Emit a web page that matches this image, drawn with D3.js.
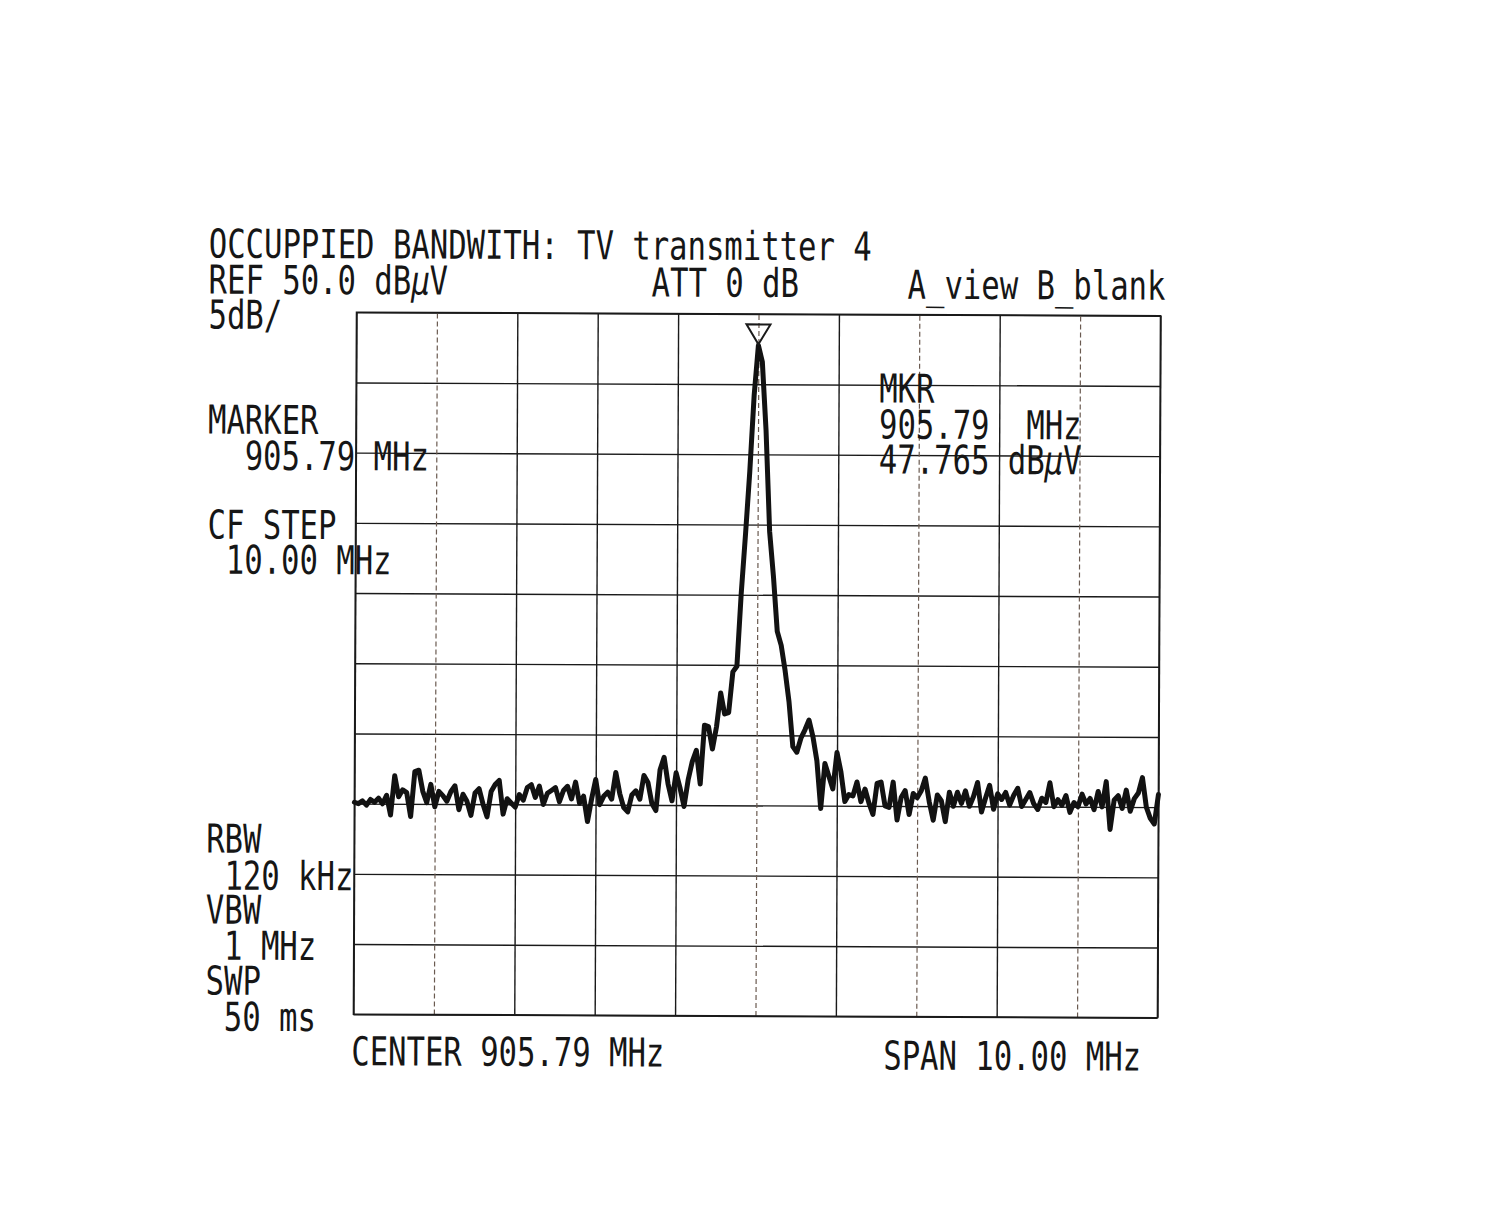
<!DOCTYPE html>
<html><head><meta charset="utf-8">
<script src="https://cdn.jsdelivr.net/npm/d3@7"></script>
<style>body{margin:0;background:#fff}svg{display:block}</style>
</head><body>
<svg id="c" width="1489" height="1227"></svg>
<script>
// ---- data ----
const centerMHz = 905.79;
const spanMHz = 10.0;
const refLevelDb = 50.0;
const dbPerDiv = 5;
const divisions = 10;
const traceStepMHz = 0.05;
const traceDb = [
15.1,15.0,15.2,14.9,15.3,15.1,15.4,15.0,15.6,14.2,
17.0,15.5,16.0,15.8,14.1,17.3,17.4,15.9,15.1,16.4,
14.8,15.9,15.6,15.2,15.9,16.3,14.6,15.7,15.2,14.2,
15.8,16.1,15.0,14.1,15.9,16.4,16.7,14.3,15.4,15.1,
14.8,15.7,15.3,16.2,16.4,15.5,16.3,15.0,15.8,16.0,
16.2,15.2,16.0,16.3,15.4,16.6,15.1,15.6,13.8,15.4,
16.8,15.0,15.6,15.9,15.4,17.3,15.8,14.8,14.5,15.7,
16.0,15.4,17.1,16.6,15.1,14.6,17.5,18.4,16.5,15.3,
17.3,16.2,14.9,16.8,18.1,18.9,16.5,20.7,20.6,19.0,
20.6,23.0,21.5,21.6,24.5,24.9,30.1,34.3,38.8,44.2,
47.765,
46.6,41.7,34.5,31.3,27.4,26.4,24.6,22.4,19.2,18.8,
19.8,20.4,21.1,19.9,18.2,14.8,18.0,17.1,16.2,18.8,
17.4,15.3,15.8,15.7,16.7,15.3,16.2,15.2,14.4,16.6,
16.7,15.0,14.9,16.7,14.0,15.6,16.1,14.4,15.9,15.6,
16.1,17.0,15.3,14.0,15.8,15.4,13.9,16.0,15.0,16.0,
15.2,16.1,15.0,15.7,16.7,14.6,15.6,16.5,14.8,15.9,
15.5,16.0,15.1,15.8,16.3,15.0,15.5,16.0,15.2,14.8,
15.6,15.3,16.7,15.0,15.5,15.1,15.8,14.6,15.3,15.0,
15.9,15.2,15.6,14.8,16.1,15.0,16.8,13.4,15.5,15.8,
14.9,16.2,14.7,15.6,16.0,17.1,15.0,14.2,13.8,15.9
];
const markerFreqMHz = 905.79;
const markerDb = 47.765;
const dashedDivs = [1, 5, 7, 9];

const title = "OCCUPPIED BANDWITH: TV transmitter 4";
const refText = ["REF 50.0 dB", "µ", "V"];
const attText = "ATT 0 dB";
const viewText = "A_view B_blank";
const scaleText = "5dB/";
const leftLabels = [
  {t: "MARKER", y: 436}, {t: "  905.79 MHz", y: 472},
  {t: "CF STEP", y: 541}, {t: " 10.00 MHz", y: 576},
  {t: "RBW", y: 855}, {t: " 120 kHz", y: 892},
  {t: "VBW", y: 926}, {t: " 1 MHz", y: 962},
  {t: "SWP", y: 997}, {t: " 50 ms", y: 1033}
];
const mkrLabels = ["MKR", "905.79  MHz", ["47.765 dB", "µ", "V"]];
const bottomLeft = "CENTER 905.79 MHz";
const bottomRight = "SPAN 10.00 MHz";

// ---- drawing ----
const svg = d3.select("#c");
const L = 355, R = 1159, T = 314, B = 1016;
const g = svg.append("g").attr("transform", "rotate(0.25 758 665)");

const fMin = centerMHz - spanMHz / 2, fMax = centerMHz + spanMHz / 2;
const x = d3.scaleLinear().domain([fMin, fMax]).range([L, R]);
const y = d3.scaleLinear().domain([refLevelDb - dbPerDiv * divisions, refLevelDb]).range([B, T]);

const xTicks = d3.range(divisions + 1).map(k => fMin + k * spanMHz / divisions);
const yTicks = d3.range(divisions + 1).map(k => refLevelDb - k * dbPerDiv);

// horizontal grid
const yAxis = g.append("g").attr("transform", `translate(${L},0)`)
  .call(d3.axisLeft(y).tickValues(yTicks).tickSize(-(R - L)).tickFormat(""));
yAxis.select(".domain").remove();
yAxis.selectAll(".tick line").attr("stroke", "#1a1a1a").attr("stroke-width", 1.4);

// vertical grid
const xAxis = g.append("g").attr("transform", `translate(0,${B})`)
  .call(d3.axisBottom(x).tickValues(xTicks).tickSize(-(B - T)).tickFormat(""));
xAxis.select(".domain").remove();
xAxis.selectAll(".tick line")
  .attr("stroke", (d, i) => dashedDivs.includes(i) ? "#6a5a50" : "#1a1a1a")
  .attr("stroke-width", (d, i) => dashedDivs.includes(i) ? 1.2 : 1.4)
  .attr("stroke-dasharray", (d, i) => dashedDivs.includes(i) ? "5,3" : null);

// frame
g.append("rect").attr("x", L).attr("y", T).attr("width", R - L).attr("height", B - T)
  .attr("fill", "none").attr("stroke", "#1a1a1a").attr("stroke-width", 1.6);

// trace
const pts = traceDb.map((v, i) => [fMin + i * traceStepMHz, v]);
g.append("path").datum(pts)
  .attr("fill", "none").attr("stroke", "#121212").attr("stroke-width", 5)
  .attr("stroke-linejoin", "round").attr("stroke-linecap", "round")
  .attr("d", d3.line().x(d => x(d[0])).y(d => y(d[1])));

// marker triangle
const mx = x(markerFreqMHz), my = y(markerDb);
g.append("path")
  .attr("d", `M${mx - 12},${my - 21}L${mx + 12},${my - 21}L${mx},${my - 1}Z`)
  .attr("fill", "none").attr("stroke", "#1a1a1a").attr("stroke-width", 2);

// text helper
function txt(xp, yp, parts) {
  const t = g.append("text")
    .attr("transform", `translate(${xp},${yp}) scale(1,1.3)`)
    .attr("font-family", "DejaVu Sans Mono, Liberation Mono, monospace")
    .attr("font-size", 30.6).attr("fill", "#161616")
    .attr("xml:space", "preserve").style("white-space", "pre");
  if (typeof parts === "string") parts = [parts];
  parts.forEach(p => {
    const s = t.append("tspan").text(p);
    if (p === "µ") s.attr("font-style", "italic");
  });
  return t;
}

txt(207, 260, title);
txt(207, 296, refText);
txt(650, 297, attText);
txt(906, 298, viewText);
txt(207, 331, scaleText);
leftLabels.forEach(d => txt(207, d.y, d.t));
txt(878, 402, mkrLabels[0]);
txt(878, 438, mkrLabels[1]);
txt(878, 473, mkrLabels[2]);
txt(353, 1067, bottomLeft);
txt(885, 1069, bottomRight);
</script>
</body></html>
